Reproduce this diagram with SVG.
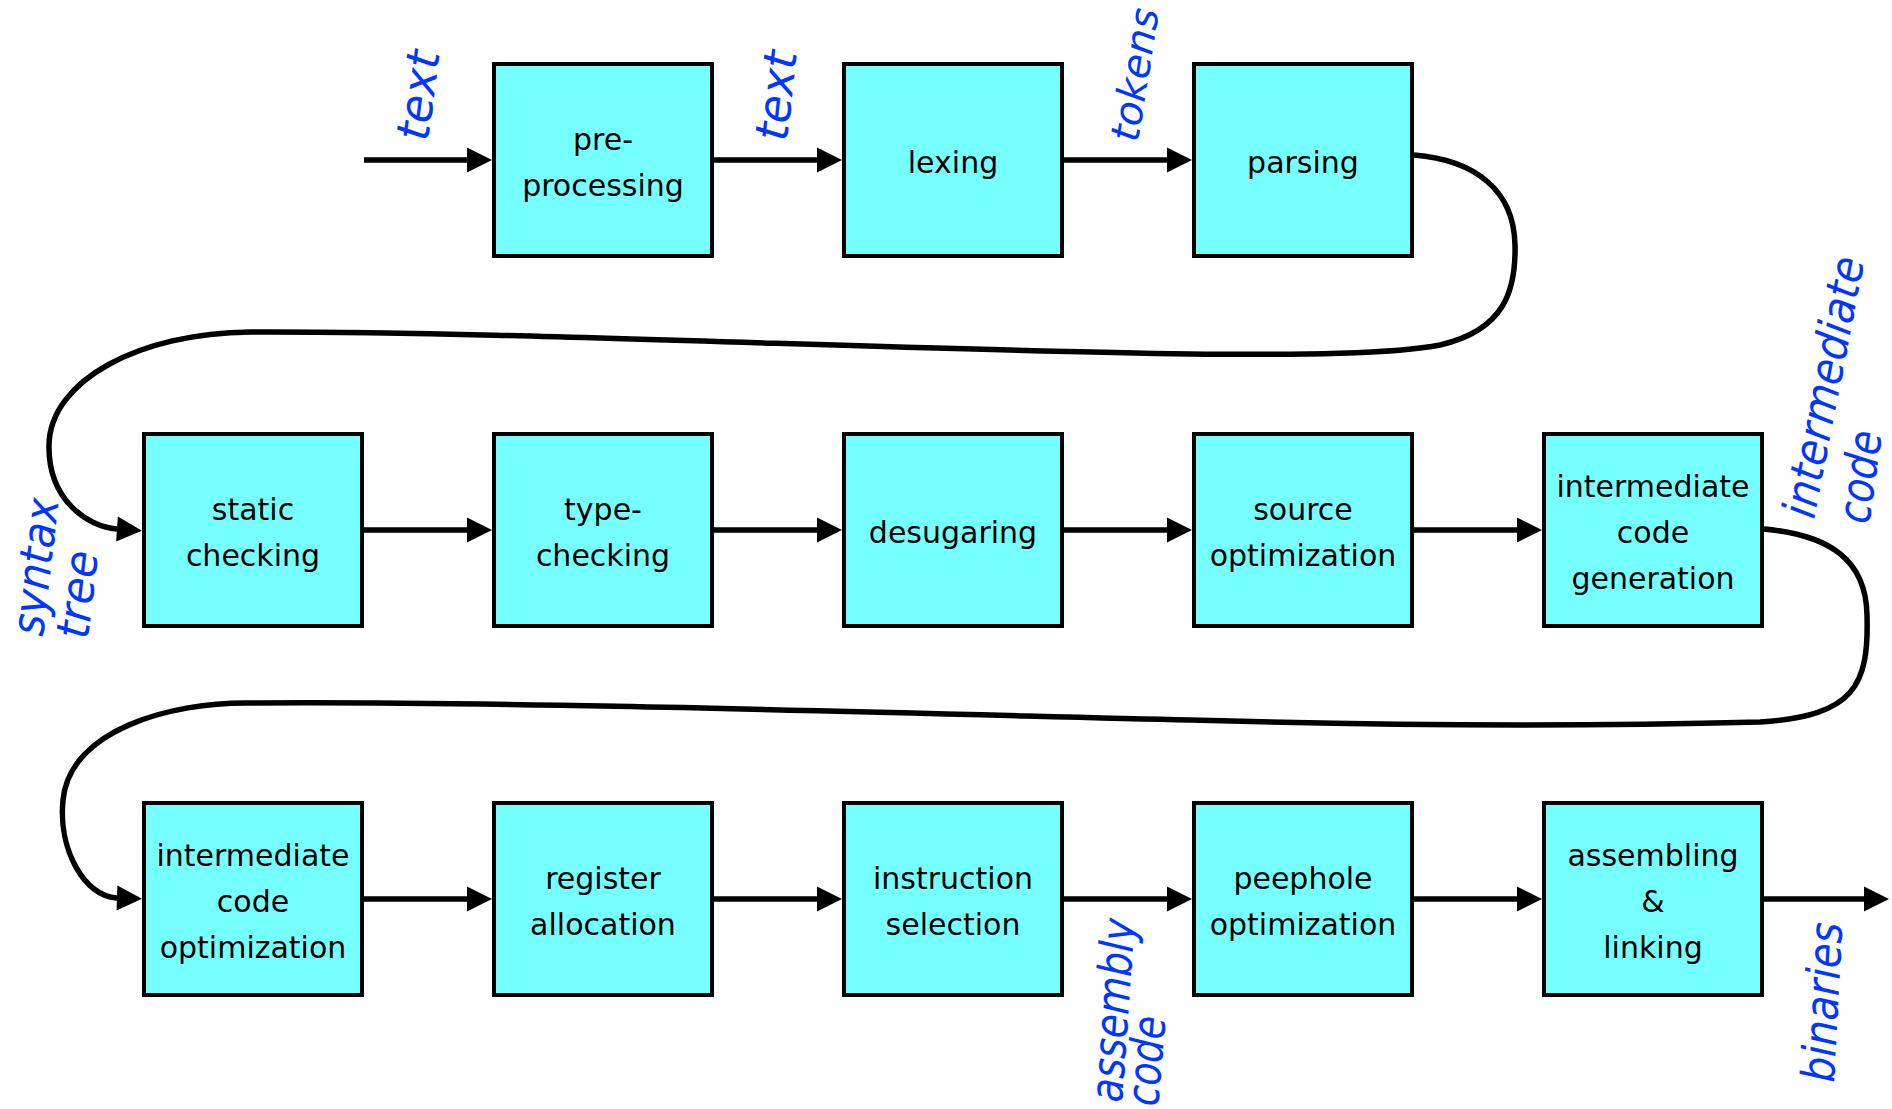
<svg xmlns="http://www.w3.org/2000/svg" width="1892" height="1109" viewBox="0 0 1892 1109">
  <style>
    .box { fill: #75ffff; stroke: #000; stroke-width: 4; }
    .nt { font-family: "DejaVu Sans", "Liberation Sans", sans-serif; font-size: 30px; fill: #000; text-anchor: middle; }
    .lbl { font-family: "DejaVu Sans", "Liberation Sans", sans-serif; font-size: 46px; font-style: italic; fill: #0036ff; }
    .wire { fill: none; stroke: #000; stroke-width: 5.5; marker-end: url(#ah); }
  </style>
  <defs>
    <marker id="ah" markerUnits="userSpaceOnUse" viewBox="0 0 25 25" markerWidth="25" markerHeight="25" refX="0" refY="12.5" orient="auto" overflow="visible">
      <path d="M0,0 L25,12.5 L0,25 Z" fill="#000"/>
    </marker>
  </defs>

  <rect width="1892" height="1109" fill="#fff"/>

  <!-- connectors -->
  <g id="connectors">
    <path class="wire" d="M364,160 H467"/>
    <path class="wire" d="M714,160 H817"/>
    <path class="wire" d="M1064,160 H1167"/>
    <path class="wire" d="M1414,155 C1475,160 1514,190 1515,245 C1516,290 1505,330 1440,345 C1395,354 1300,355 1190,354 C900,350 500,331 250,332 C140,333 50,380 49,445 C48,500 88,527 117,529"/>
    <path class="wire" d="M364,530 H467"/>
    <path class="wire" d="M714,530 H817"/>
    <path class="wire" d="M1064,530 H1167"/>
    <path class="wire" d="M1414,530 H1517"/>
    <path class="wire" d="M1764,529 C1830,535 1866,560 1867,615 C1869,685 1855,716 1760,722 C1600,726 1400,726 1190,720 C900,713 500,701 250,703 C170,702 70,730 63,800 C58,850 85,897 117,898"/>
    <path class="wire" d="M364,899 H467"/>
    <path class="wire" d="M714,899 H817"/>
    <path class="wire" d="M1064,899 H1167"/>
    <path class="wire" d="M1414,899 H1517"/>
    <path class="wire" d="M1764,899 H1864"/>
  </g>

  <!-- row 1 -->
  <g id="preprocessing">
    <rect class="box" x="494" y="64" width="218" height="192"/>
    <text class="nt" x="603" y="150">pre-</text>
    <text class="nt" x="603" y="196">processing</text>
  </g>
  <g id="lexing">
    <rect class="box" x="844" y="64" width="218" height="192"/>
    <text class="nt" x="953" y="173">lexing</text>
  </g>
  <g id="parsing">
    <rect class="box" x="1194" y="64" width="218" height="192"/>
    <text class="nt" x="1303" y="173">parsing</text>
  </g>

  <!-- row 2 -->
  <g id="static-checking">
    <rect class="box" x="144" y="434" width="218" height="192"/>
    <text class="nt" x="253" y="520">static</text>
    <text class="nt" x="253" y="566">checking</text>
  </g>
  <g id="type-checking">
    <rect class="box" x="494" y="434" width="218" height="192"/>
    <text class="nt" x="603" y="520">type-</text>
    <text class="nt" x="603" y="566">checking</text>
  </g>
  <g id="desugaring">
    <rect class="box" x="844" y="434" width="218" height="192"/>
    <text class="nt" x="953" y="543">desugaring</text>
  </g>
  <g id="source-optimization">
    <rect class="box" x="1194" y="434" width="218" height="192"/>
    <text class="nt" x="1303" y="520">source</text>
    <text class="nt" x="1303" y="566">optimization</text>
  </g>
  <g id="ir-generation">
    <rect class="box" x="1544" y="434" width="218" height="192"/>
    <text class="nt" x="1653" y="497">intermediate</text>
    <text class="nt" x="1653" y="543">code</text>
    <text class="nt" x="1653" y="589">generation</text>
  </g>

  <!-- row 3 -->
  <g id="ir-optimization">
    <rect class="box" x="144" y="803" width="218" height="192"/>
    <text class="nt" x="253" y="866">intermediate</text>
    <text class="nt" x="253" y="912">code</text>
    <text class="nt" x="253" y="958">optimization</text>
  </g>
  <g id="register-allocation">
    <rect class="box" x="494" y="803" width="218" height="192"/>
    <text class="nt" x="603" y="889">register</text>
    <text class="nt" x="603" y="935">allocation</text>
  </g>
  <g id="instruction-selection">
    <rect class="box" x="844" y="803" width="218" height="192"/>
    <text class="nt" x="953" y="889">instruction</text>
    <text class="nt" x="953" y="935">selection</text>
  </g>
  <g id="peephole-optimization">
    <rect class="box" x="1194" y="803" width="218" height="192"/>
    <text class="nt" x="1303" y="889">peephole</text>
    <text class="nt" x="1303" y="935">optimization</text>
  </g>
  <g id="assembling-linking">
    <rect class="box" x="1544" y="803" width="218" height="192"/>
    <text class="nt" x="1653" y="866">assembling</text>
    <text class="nt" x="1653" y="912">&amp;</text>
    <text class="nt" x="1653" y="958">linking</text>
  </g>

  <!-- data labels on the connectors -->
  <g id="labels">
    <text class="lbl" transform="translate(428,142) rotate(-82.4)" textLength="90" lengthAdjust="spacingAndGlyphs">text</text>
    <text class="lbl" transform="translate(787,142) rotate(-83.7)" textLength="90" lengthAdjust="spacingAndGlyphs">text</text>
    <text class="lbl" transform="translate(1138,143) rotate(-81)" style="font-size:40px">tokens</text>
    <text class="lbl" transform="translate(43,637) rotate(-83.4)" textLength="138" lengthAdjust="spacingAndGlyphs">syntax</text>
    <text class="lbl" transform="translate(88,640) rotate(-83.4)" textLength="88" lengthAdjust="spacingAndGlyphs">tree</text>
    <text class="lbl" transform="translate(1814,520) rotate(-79)" textLength="265" lengthAdjust="spacingAndGlyphs">intermediate</text>
    <text class="lbl" transform="translate(1869,525) rotate(-82)" textLength="93" lengthAdjust="spacingAndGlyphs">code</text>
    <text class="lbl" transform="translate(1122,1103) rotate(-86)" textLength="184" lengthAdjust="spacingAndGlyphs">assembly</text>
    <text class="lbl" transform="translate(1158,1107) rotate(-85)" textLength="90" lengthAdjust="spacingAndGlyphs">code</text>
    <text class="lbl" transform="translate(1834,1083) rotate(-87)" textLength="160" lengthAdjust="spacingAndGlyphs">binaries</text>
  </g>
</svg>
